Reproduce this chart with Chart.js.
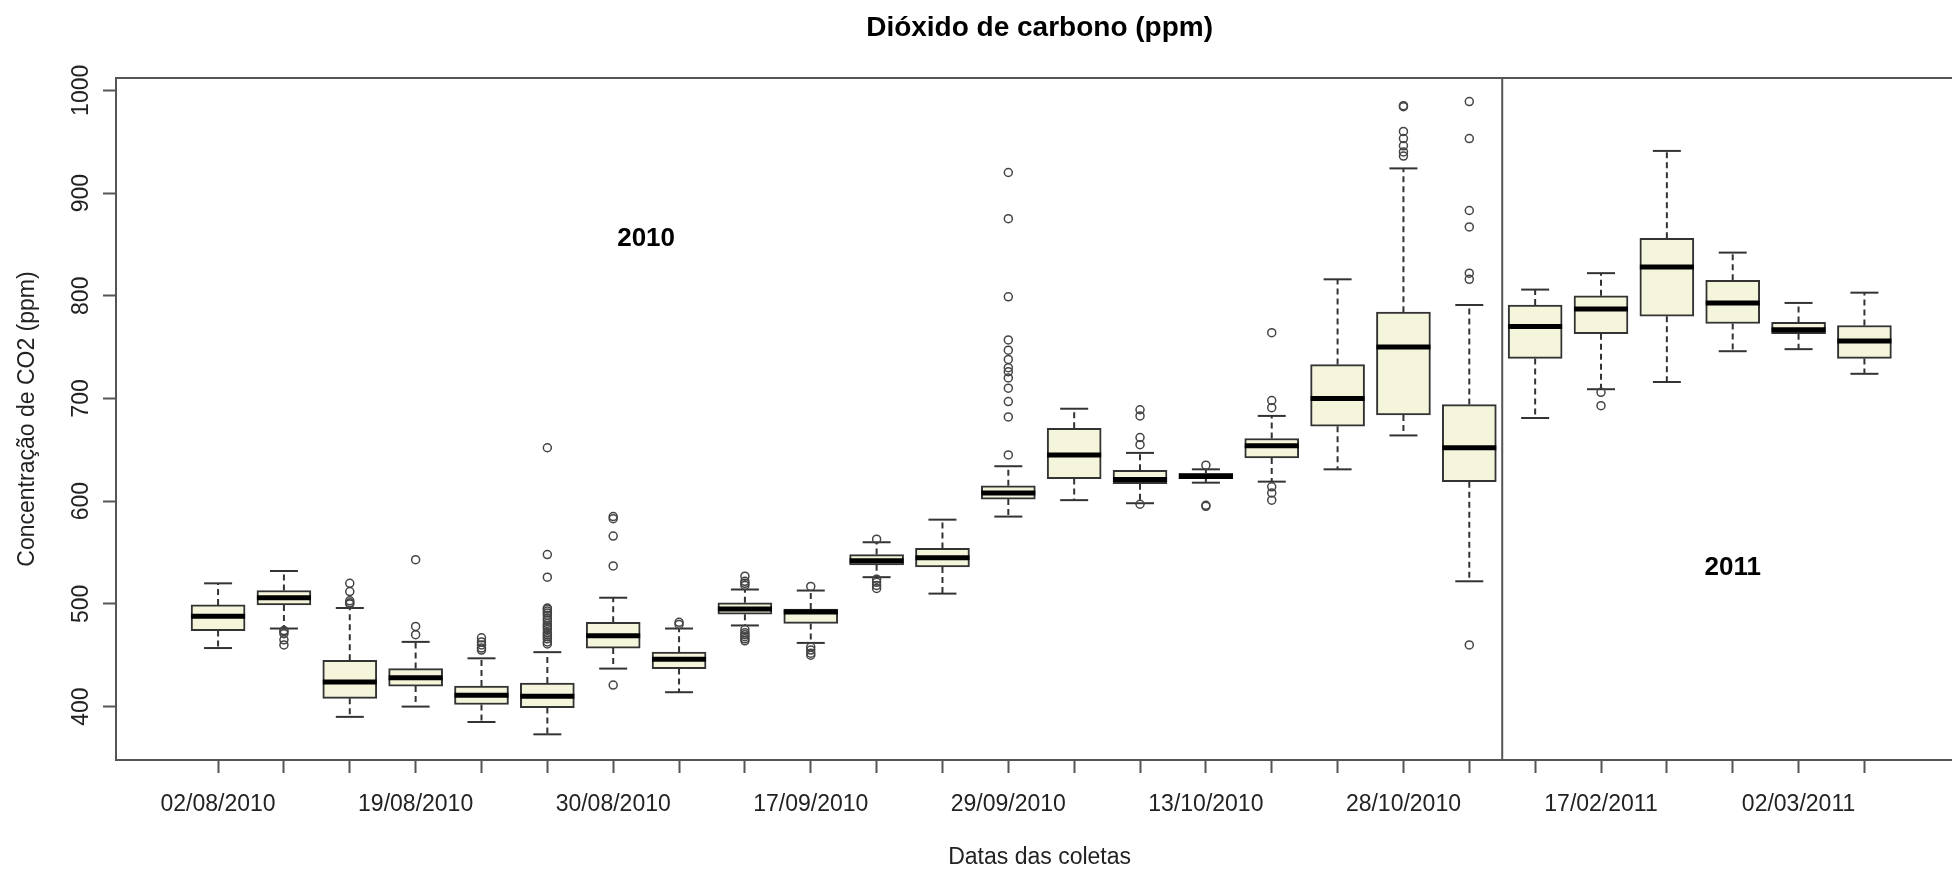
<!DOCTYPE html>
<html lang="pt">
<head>
<meta charset="utf-8">
<title>Dióxido de carbono (ppm)</title>
<script src="https://cdn.jsdelivr.net/npm/chart.js@4.4.1/dist/chart.umd.min.js"></script>
<style>
  html, body { margin: 0; padding: 0; background: #fff; overflow: hidden; }
  #wrap { position: relative; width: 1952px; height: 870px; }
</style>
</head>
<body>
<div id="wrap"><canvas id="co2-chart"></canvas></div>
<script>
// Box positions (one per sampling date) and their axis labels
const boxPositions = [1, 2, 3, 4, 5, 6, 7, 8, 9, 10, 11, 12, 13, 14, 15, 16, 17, 18, 19, 20, 21, 22, 23, 24, 25, 26];
const tickLabels = ['02/08/2010', '', '', '19/08/2010', '', '', '30/08/2010', '', '', '17/09/2010', '', '',
    '29/09/2010', '', '', '13/10/2010', '', '', '28/10/2010', '', '', '17/02/2011', '', '', '02/03/2011', ''];

// Box plot summaries (ppm)
const whiskerLow  = [457, 476, 390, 400, 385, 373, 437, 414, 479, 462, 526, 510, 585, 601, 598, 618, 619, 631, 664, 522, 681, 709, 716, 746, 748, 724];
const quartile1   = [474, 499, 408, 420, 402, 399, 457, 437, 490, 481, 538, 536, 602, 622, 617, 622, 642, 673, 684, 619, 739, 763, 780, 773, 763, 739];
const medians     = [488, 506, 424, 428, 411, 410, 469, 446, 495, 492, 542, 545, 608, 645, 621, 624, 654, 700, 750, 652, 770, 787, 828, 793, 767, 756];
const quartile3   = [499, 513, 445, 437, 420, 423, 482, 453, 501, 495, 548, 554, 615, 671, 630, 627, 661, 733, 784, 694, 791, 800, 856, 815, 774, 771];
const whiskerHigh = [520, 532, 496, 463, 447, 453, 506, 476, 514, 513, 560, 582, 634, 690, 647, 631, 683, 816, 924, 791, 806, 822, 941, 842, 793, 803];
const outliers = [
    [],
    [474, 473, 471, 465, 460],
    [520, 512, 503, 501, 500],
    [543, 478, 470],
    [467, 463, 460, 457, 455],
    [652, 548, 526, 496, 495, 493, 491, 489, 486, 484, 481, 479, 477, 475, 472, 470, 468, 466, 463, 461],
    [585, 583, 566, 537, 421],
    [482, 480],
    [527, 522, 520, 518, 475, 472, 470, 468, 466, 464],
    [517, 458, 455, 452, 450],
    [563, 524, 521, 518, 515],
    [],
    [920, 875, 799, 757, 747, 738, 730, 726, 720, 710, 697, 682, 645],
    [],
    [689, 683, 662, 655, 597],
    [635, 596, 595],
    [764, 698, 691, 614, 608, 601],
    [],
    [985, 984, 960, 953, 946, 940, 936],
    [989, 953, 883, 867, 822, 816, 460],
    [],
    [706, 693],
    [],
    [],
    [],
    []
];

// Axis ticks and annotations
const yTickValues = [400, 500, 600, 700, 800, 900, 1000];
const yMin = 348;
const yMax = 1012;
const xMin = -0.55;
const xMax = 27.33;      // visible right edge (the plot is cut off by the picture)
const xPlotEnd = 27.5;   // right end of the full plot region, used to centre titles
const yearBreak = 20.5;
const yearLabels = ['2010', '2011'];
const yearLabelX = [7.5, 24];
const yearLabelY = [855, 535];

const FONT = "'Liberation Sans', Arial, sans-serif";
const FRAME = '#555';

// Build datasets from the summaries
const boxData = boxPositions.map((p, i) => ({ x: p, y: [quartile1[i], quartile3[i]] }));
const medianData = boxPositions.map((p, i) => ({ x: p, y: medians[i] }));
const stapleData = boxPositions.flatMap((p, i) => [{ x: p, y: whiskerLow[i] }, { x: p, y: whiskerHigh[i] }]);
const whiskerData = boxPositions.flatMap((p, i) => [
    { x: p, y: quartile3[i] }, { x: p, y: whiskerHigh[i] }, { x: p, y: null },
    { x: p, y: quartile1[i] }, { x: p, y: whiskerLow[i] }, { x: p, y: null }
]);
const outlierData = boxPositions.flatMap((p, i) => outliers[i].map(v => ({ x: p, y: v })));

// Extra drawing: frame top, rotated y labels, titles, year notes
const annotationsPlugin = {
    id: 'annotations',
    afterDraw(chart) {
        const ctx = chart.ctx;
        const area = chart.chartArea;
        const x = chart.scales.x;
        const y = chart.scales.y;
        const centreX = x.getPixelForValue((xMin + xPlotEnd) / 2);

        ctx.save();
        ctx.strokeStyle = FRAME;
        ctx.lineWidth = 2;
        ctx.beginPath();
        ctx.moveTo(area.left - 1, area.top);
        ctx.lineTo(chart.width, area.top);
        ctx.stroke();

        // y tick labels, rotated like R
        ctx.fillStyle = '#222';
        ctx.font = '23px ' + FONT;
        ctx.textAlign = 'center';
        ctx.textBaseline = 'alphabetic';
        yTickValues.forEach(v => {
            ctx.save();
            ctx.translate(area.left - 28, y.getPixelForValue(v));
            ctx.rotate(-Math.PI / 2);
            ctx.fillText(String(v), 0, 0);
            ctx.restore();
        });

        // y axis title
        ctx.save();
        ctx.translate(34, (area.top + area.bottom) / 2);
        ctx.rotate(-Math.PI / 2);
        ctx.fillText('Concentração de CO2 (ppm)', 0, 0);
        ctx.restore();

        // x axis title
        ctx.fillText('Datas das coletas', centreX, 864);

        // main title
        ctx.fillStyle = '#000';
        ctx.font = 'bold 28px ' + FONT;
        ctx.fillText('Dióxido de carbono (ppm)', centreX, 36);

        // year notes
        ctx.font = 'bold 26px ' + FONT;
        ctx.textBaseline = 'middle';
        yearLabels.forEach((label, i) => {
            ctx.fillText(label, x.getPixelForValue(yearLabelX[i]), y.getPixelForValue(yearLabelY[i]));
        });
        ctx.restore();
    }
};

function createChart() {
    Chart.defaults.font.family = FONT;
    Chart.defaults.color = '#222';

    const ctx = document.getElementById('co2-chart').getContext('2d');
    return new Chart(ctx, {
        type: 'bar',
        data: {
            datasets: [
                {
                    type: 'line',
                    data: [{ x: yearBreak, y: yMin }, { x: yearBreak, y: yMax }],
                    borderColor: FRAME,
                    borderWidth: 2,
                    pointRadius: 0,
                    order: 6
                },
                {
                    type: 'line',
                    data: whiskerData,
                    borderColor: '#333',
                    borderWidth: 2,
                    borderDash: [6, 4],
                    pointRadius: 0,
                    spanGaps: false,
                    order: 5
                },
                {
                    type: 'bar',
                    data: boxData,
                    backgroundColor: '#F5F5DC',
                    borderColor: '#333',
                    borderWidth: 2,
                    borderSkipped: false,
                    barThickness: 54,
                    order: 4
                },
                {
                    type: 'scatter',
                    data: medianData,
                    pointStyle: 'line',
                    pointRadius: 27,
                    borderColor: '#000',
                    borderWidth: 5,
                    order: 3
                },
                {
                    type: 'scatter',
                    data: stapleData,
                    pointStyle: 'line',
                    pointRadius: 14,
                    borderColor: '#333',
                    borderWidth: 2,
                    order: 3
                },
                {
                    type: 'scatter',
                    data: outlierData,
                    pointStyle: 'circle',
                    pointRadius: 4,
                    backgroundColor: 'rgba(0,0,0,0)',
                    borderColor: '#444',
                    borderWidth: 1.5,
                    order: 1
                }
            ]
        },
        options: {
            responsive: true,
            maintainAspectRatio: false,
            animation: false,
            events: [],
            layout: {
                autoPadding: false,
                padding: { top: 78, left: 0, right: 0, bottom: 0 }
            },
            plugins: {
                legend: { display: false },
                title: { display: false },
                tooltip: { enabled: false }
            },
            scales: {
                x: {
                    type: 'linear',
                    min: xMin,
                    max: xMax,
                    offset: false,
                    afterBuildTicks: scale => { scale.ticks = boxPositions.map(v => ({ value: v })); },
                    afterFit: scale => {
                        scale.height = 110;
                        scale.paddingLeft = 0;
                        scale.paddingRight = 0;
                    },
                    ticks: {
                        autoSkip: false,
                        maxRotation: 0,
                        minRotation: 0,
                        padding: 18,
                        color: '#222',
                        font: { size: 23 },
                        callback: (value, index) => tickLabels[index]
                    },
                    grid: {
                        offset: false,
                        drawOnChartArea: false,
                        tickLength: 13,
                        tickWidth: 2,
                        tickColor: FRAME
                    },
                    border: { display: true, color: FRAME, width: 2 },
                    title: { display: false }
                },
                y: {
                    type: 'linear',
                    min: yMin,
                    max: yMax,
                    beginAtZero: false,
                    afterBuildTicks: scale => { scale.ticks = yTickValues.map(v => ({ value: v })); },
                    afterFit: scale => {
                        scale.width = 116;
                        scale.paddingTop = 0;
                        scale.paddingBottom = 0;
                    },
                    ticks: { display: false },
                    grid: {
                        drawOnChartArea: false,
                        tickLength: 13,
                        tickWidth: 2,
                        tickColor: FRAME
                    },
                    border: { display: true, color: FRAME, width: 2 }
                }
            }
        },
        plugins: [annotationsPlugin]
    });
}

createChart();
</script>
</body>
</html>
